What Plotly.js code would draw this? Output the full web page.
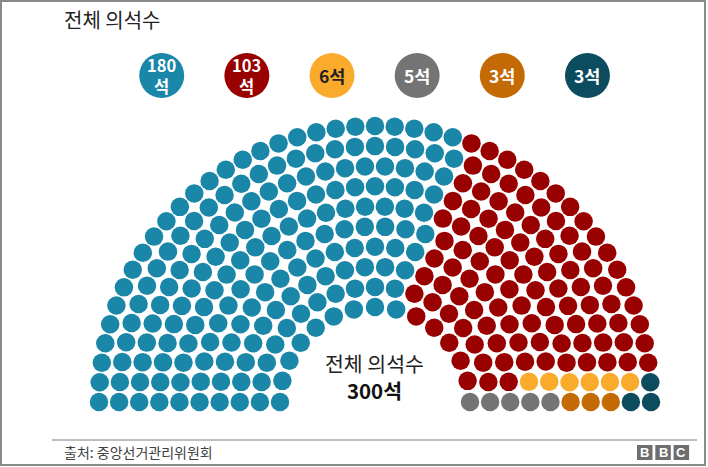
<!DOCTYPE html>
<html>
<head>
<meta charset="utf-8">
<script src="https://cdn.plot.ly/plotly-3.0.1.min.js"></script>
<style>
  html, body { margin: 0; padding: 0; background: #fff; }
  #chart { width: 708px; height: 467px; }
</style>
</head>
<body>
<div id="chart"></div>
<script>
// parties, in the order of the legend
let parties = ['더불어민주당·더불어시민당', '미래통합당·미래한국당', '정의당', '무소속', '국민의당', '열린민주당'];
let seats = [180, 103, 6, 5, 3, 3];
let badges = ['180<br>석', '103<br>석', '6석', '5석', '3석', '3석'];
let colors = ['#1a86a8', '#990000', '#fbab2c', '#747474', '#c46a04', '#0d4b5e'];
let badgeText = ['#fff', '#fff', '#222', '#fff', '#fff', '#fff'];
// small parties fill the bottom two rows on the right, snaking outwards then back
let snakeOrder = [3, 4, 5, 2];

const font = '"Noto Sans CJK KR", "Noto Sans", sans-serif';
const W = 708, H = 467;
const cx = 375, cy = H - 402;
const rInner = 95, rOuter = 276, rows = 10;

// hemicycle geometry: seats per ring proportional to radius
let total = seats.reduce((a, b) => a + b, 0);
let radii = [];
for (let i = 0; i < rows; i++) radii.push(rInner + (rOuter - rInner) * i / (rows - 1));
let rsum = radii.reduce((a, b) => a + b, 0);
let raw = radii.map(r => total * r / rsum);
let perRow = raw.map(Math.floor);
let left = total - perRow.reduce((a, b) => a + b, 0);
raw.map((v, i) => [v - Math.floor(v), i]).sort((a, b) => b[0] - a[0])
  .slice(0, left).forEach(d => perRow[d[1]]++);

let all = [];
for (let i = 0; i < rows; i++) {
  let n = perRow[i];
  for (let j = 0; j < n; j++) {
    let a = Math.PI * j / (n - 1);
    all.push({ ring: i, j: j, a: a, x: cx + radii[i] * Math.cos(a), y: cy + radii[i] * Math.sin(a), p: -1 });
  }
}

// snake through the bottom two rows on the right side
let snake = [];
for (let i = 0; i < rows; i++) snake.push(all.find(s => s.ring === i && s.j === 0));
for (let i = rows - 1; i >= 0; i--) snake.push(all.find(s => s.ring === i && s.j === 1));
let k = 0;
snakeOrder.forEach(p => {
  for (let c = 0; c < seats[p]; c++) snake[k++].p = p;
});

// first party from the left by angle, second takes what's left
let byAngle = all.slice().sort((a, b) => b.a - a.a || a.ring - b.ring);
let n0 = 0;
byAngle.forEach(s => {
  if (s.p !== -1) return;
  if (n0 < seats[0]) { s.p = 0; n0++; }
  else s.p = 1;
});

let data = parties.map((name, p) => {
  let mine = all.filter(s => s.p === p);
  return {
    x: mine.map(s => s.x),
    y: mine.map(s => s.y),
    type: 'scatter',
    mode: 'markers',
    name: name,
    marker: { size: 18.5, color: colors[p], line: { width: 0 } },
    hoverinfo: 'name',
  };
});

let shapes = [
  { type: 'rect', xref: 'x', yref: 'y', x0: 1, x1: 705, y0: H - 465, y1: H - 1,
    line: { color: '#8a8a8a', width: 2 }, layer: 'below' },
  { type: 'line', xref: 'x', yref: 'y', x0: 52, x1: 697, y0: H - 440, y1: H - 440,
    line: { color: '#a8a8a8', width: 1.5 } },
];
let annotations = [
  { x: 62, y: H - 19, xref: 'x', yref: 'y', xanchor: 'left', yanchor: 'middle', showarrow: false,
    text: '전체 의석수', font: { family: font, size: 20, color: '#222' } },
  { x: 374, y: H - 376, xref: 'x', yref: 'y', showarrow: false,
    text: '전체 의석수<br><b style="color:#111">300석</b>', font: { family: font, size: 20.5, color: '#222' } },
  { x: 62, y: H - 452, xref: 'x', yref: 'y', xanchor: 'left', showarrow: false,
    text: '출처: 중앙선거관리위원회', font: { family: font, size: 14, color: '#404040' } },
];

// legend badges
badges.forEach((t, i) => {
  let bx = 161.7 + 85.15 * i, by = H - 75.5;
  shapes.push({ type: 'circle', xref: 'x', yref: 'y', x0: bx - 22.5, x1: bx + 22.5, y0: by - 22.5, y1: by + 22.5,
    fillcolor: colors[i], line: { width: 0 } });
  annotations.push({ x: bx, y: by, xref: 'x', yref: 'y', showarrow: false,
    text: '<b>' + t + '</b>', font: { family: font, size: t.includes('<br>') ? 16.5 : 17.5, color: badgeText[i] } });
});

// BBC blocks
['B', 'B', 'C'].forEach((c, i) => {
  let x0 = 637 + 18.3 * i;
  shapes.push({ type: 'rect', xref: 'x', yref: 'y', x0: x0, x1: x0 + 15.5, y0: H - 460, y1: H - 445,
    fillcolor: '#6e6e6e', line: { width: 0 } });
  annotations.push({ x: x0 + 7.75, y: H - 452.5, xref: 'x', yref: 'y', showarrow: false,
    text: '<b>' + c + '</b>', font: { family: 'Liberation Sans, Arial, sans-serif', size: 13, color: '#fff' } });
});

Plotly.newPlot('chart', data, {
  width: W,
  height: H,
  margin: { t: 0, r: 0, b: 0, l: 0 },
  paper_bgcolor: '#fff',
  plot_bgcolor: '#fff',
  showlegend: false,
  xaxis: { range: [0, W], visible: false, fixedrange: true },
  yaxis: { range: [0, H], visible: false, fixedrange: true },
  shapes: shapes,
  annotations: annotations,
}, { staticPlot: true });
</script>
</body>
</html>
